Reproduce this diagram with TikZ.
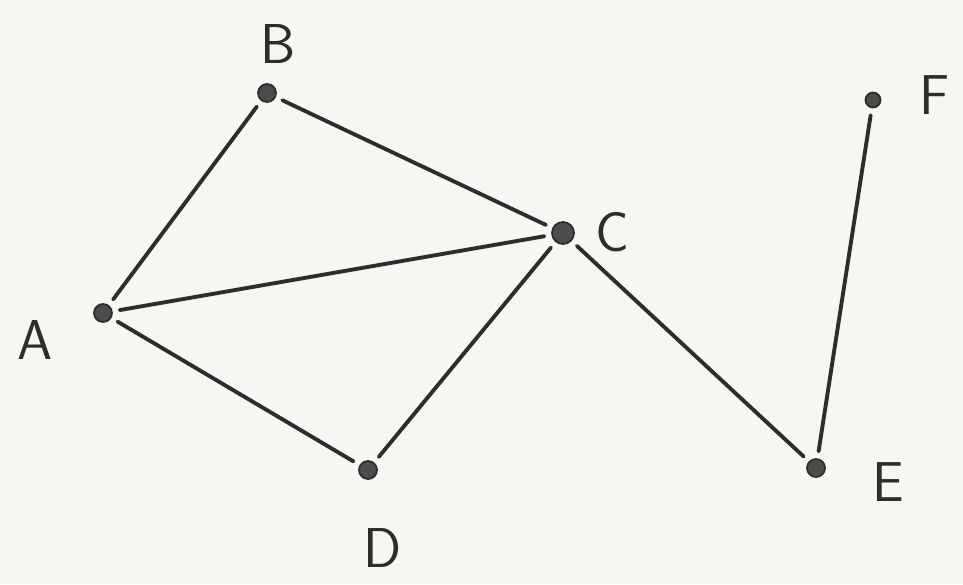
\documentclass[tikz,border=0pt]{standalone}
\usepackage{tikz}
\usetikzlibrary{positioning}
\definecolor{paper}{RGB}{246, 246, 243}
\definecolor{pencil}{RGB}{45, 45, 45}

\begin{document}
\begin{tikzpicture}[
    vertex/.style={circle, draw=pencil, fill=pencil!85, line width=1pt, inner sep=0pt, minimum size=0.36cm},
    tag/.style={text=pencil, font=\fontsize{32}{34}\selectfont\sffamily},
    edge/.style={draw=pencil, line width=2.2pt, line cap=round, shorten <=4pt, shorten >=4pt}
]

    \fill[paper] (0,0) rectangle (19.26,11.68);
    \useasboundingbox (0,0) rectangle (19.26,11.68);

    % vertices
    \node[vertex] (a) at (2.06,5.42) {};
    \node[vertex] (b) at (5.34,9.82) {};
    \node[vertex, minimum size=0.44cm] (c) at (11.26,7.02) {};
    \node[vertex] (d) at (7.36,2.28) {};
    \node[vertex] (e) at (16.32,2.32) {};
    \node[vertex, minimum size=0.3cm] (f) at (17.46,9.68) {};

    % labels
    \node[tag] (la) at (0.70,4.88) {A};
    \node[tag] (lb) at (5.56,10.80) {B};
    \node[tag] (lc) at (12.24,7.04) {C};
    \node[tag] (ld) at (7.66,0.72) {D};
    \node[tag] (le) at (17.76,2.04) {E};
    \node[tag] (lf) at (18.70,9.78) {F};

    \draw[edge] (a) -- (b);
    \draw[edge] (b) -- (c);
    \draw[edge] (a) -- (c);
    \draw[edge] (a) -- (d);
    \draw[edge] (d) -- (c);
    \draw[edge] (c) -- (e);
    \draw[edge] (e) -- (f);

\end{tikzpicture}
\end{document}
